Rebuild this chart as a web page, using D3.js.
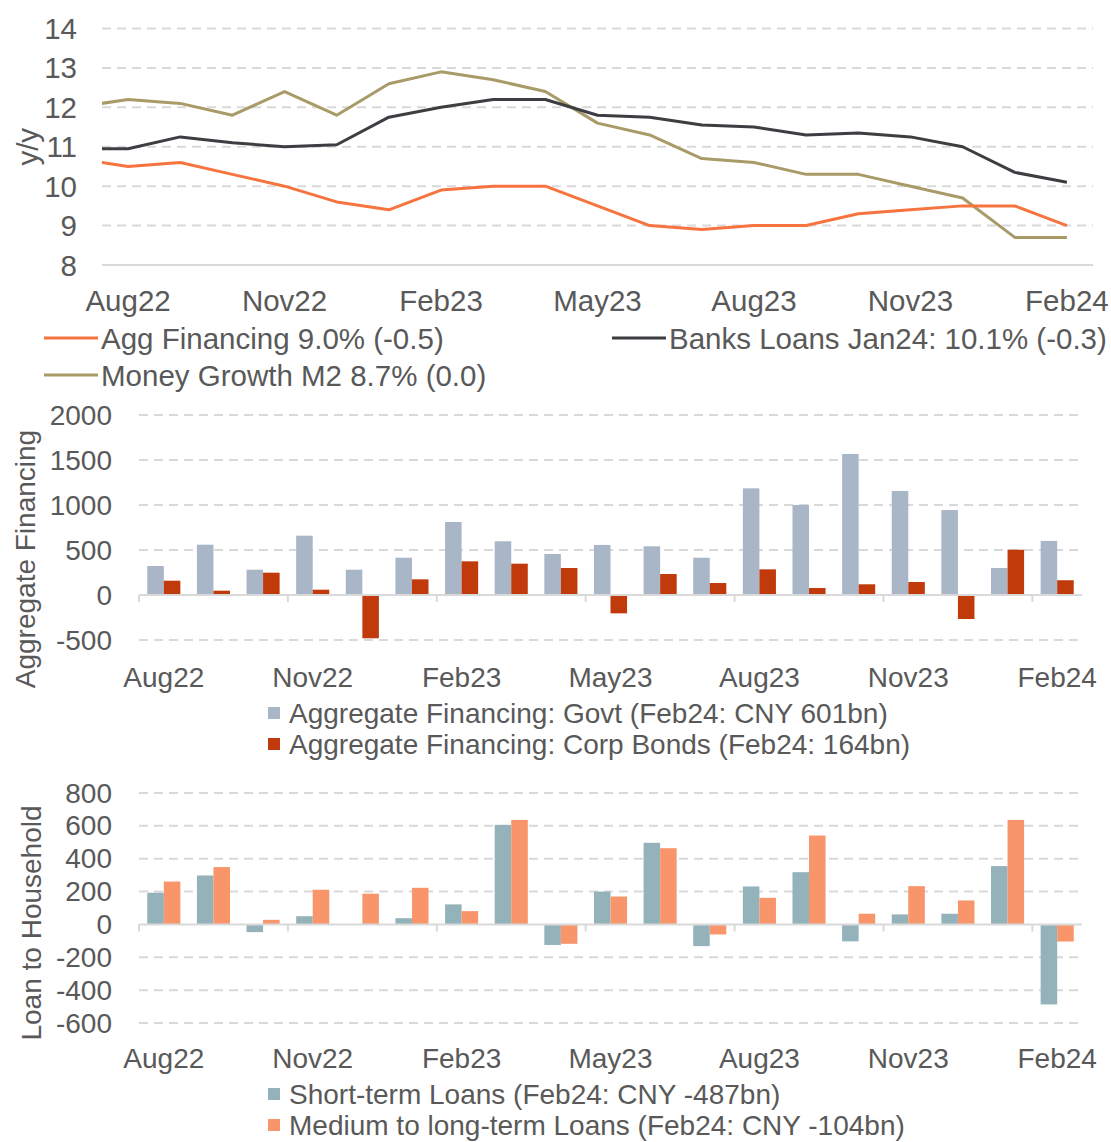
<!DOCTYPE html>
<html>
<head>
<meta charset="utf-8">
<script src="https://cdn.jsdelivr.net/npm/d3@7"></script>
<style>
  body { margin: 0; background: #fff; }
  text { font-family: "Liberation Sans", Arial, sans-serif; fill: #595959; }
</style>
</head>
<body>
<div id="chart"></div>
<script>
// months shown on every panel
const months = ['Aug22', 'Sep22', 'Oct22', 'Nov22', 'Dec22', 'Jan23', 'Feb23', 'Mar23', 'Apr23', 'May23',
  'Jun23', 'Jul23', 'Aug23', 'Sep23', 'Oct23', 'Nov23', 'Dec23', 'Jan24', 'Feb24']
const tickMonths = ['Aug22', 'Nov22', 'Feb23', 'May23', 'Aug23', 'Nov23', 'Feb24']

// line panel also carries Jul22, clipped at the left edge
const lineMonths = ['Jul22'].concat(months)
const aggFinancing = [10.7, 10.5, 10.6, 10.3, 10.0, 9.6, 9.4, 9.9, 10.0, 10.0, 9.5, 9.0, 8.9, 9.0, 9.0, 9.3, 9.4, 9.5, 9.5, 9.0]
const bankLoans = [10.95, 10.95, 11.25, 11.1, 11.0, 11.05, 11.75, 12.0, 12.2, 12.2, 11.8, 11.75, 11.55, 11.5, 11.3, 11.35, 11.25, 11.0, 10.35, 10.1]
const moneyM2 = [12.0, 12.2, 12.1, 11.8, 12.4, 11.8, 12.6, 12.9, 12.7, 12.4, 11.6, 11.3, 10.7, 10.6, 10.3, 10.3, 10.0, 9.7, 8.7, 8.7]
const lineTicks = [8, 9, 10, 11, 12, 13, 14]

const govt = [322, 559, 281, 659, 281, 414, 811, 597, 456, 556, 541, 414, 1185, 1000, 1567, 1156, 944, 300, 601]
const corpBonds = [159, 48, 248, 59, -481, 174, 374, 348, 300, -204, 233, 133, 285, 78, 119, 144, -267, 503, 164]
const aggTicks = [-500, 0, 500, 1000, 1500, 2000]

const shortTerm = [193, 298, -47, 50, 0, 38, 122, 606, -125, 200, 497, -132, 231, 318, -103, 61, 65, 355, -487]
const mediumLong = [261, 349, 28, 211, 187, 223, 81, 636, -118, 170, 464, -61, 162, 541, 65, 233, 146, 636, -104]
const loanTicks = [-600, -400, -200, 0, 200, 400, 600, 800]

const FONT = 28
const FONT1 = 29.5 // top panel text runs a bit larger
const GRID = '#d9d9d9'

const svg = d3.select('#chart').append('svg')
  .attr('width', 1111)
  .attr('height', 1142)

// ---------- panel 1: growth lines ----------
const P1 = { left: 102, right: 1093, top: 28.5, bottom: 265 }
const step1 = (P1.right - P1.left) / months.length
const x1 = d3.scalePoint().domain(lineMonths).range([P1.left - step1 / 2, P1.right - step1 / 2])
const y1 = d3.scaleLinear().domain([8, 14]).range([P1.bottom, P1.top])

svg.append('clipPath').attr('id', 'clip1')
  .append('rect')
  .attr('x', P1.left).attr('y', 0)
  .attr('width', P1.right - P1.left).attr('height', 300)

svg.append('g')
  .selectAll('line')
  .data(lineTicks)
  .join('line')
  .attr('x1', P1.left).attr('x2', P1.right)
  .attr('y1', d => y1(d)).attr('y2', d => y1(d))
  .attr('stroke', GRID)
  .attr('stroke-width', 2)
  .attr('stroke-dasharray', d => d === 8 ? null : '9,6')

svg.append('g')
  .selectAll('text')
  .data(lineTicks)
  .join('text')
  .attr('x', 77)
  .attr('y', d => y1(d))
  .attr('text-anchor', 'end')
  .attr('dominant-baseline', 'central')
  .style('font-size', FONT1 + 'px')
  .text(d => d)

svg.append('g')
  .selectAll('text')
  .data(tickMonths)
  .join('text')
  .attr('x', d => x1(d))
  .attr('y', 300)
  .attr('text-anchor', 'middle')
  .attr('dominant-baseline', 'central')
  .style('font-size', FONT1 + 'px')
  .text(d => d)

svg.append('text')
  .attr('transform', `translate(27,${(P1.top + P1.bottom) / 2}) rotate(-90)`)
  .attr('text-anchor', 'middle')
  .attr('dominant-baseline', 'central')
  .style('font-size', FONT1 + 'px')
  .text('y/y')

const lineSeries = [
  { name: 'Agg Financing 9.0% (-0.5)', values: aggFinancing, color: '#f7743f', lx: 44, ly: 338 },
  { name: 'Banks Loans Jan24: 10.1% (-0.3)', values: bankLoans, color: '#3d3d42', lx: 612, ly: 338 },
  { name: 'Money Growth M2 8.7% (0.0)', values: moneyM2, color: '#a99b68', lx: 44, ly: 375 }
]
const line = d3.line().x((d, i) => x1(lineMonths[i])).y(d => y1(d))

svg.append('g')
  .attr('clip-path', 'url(#clip1)')
  .selectAll('path')
  .data([lineSeries[2], lineSeries[1], lineSeries[0]])
  .join('path')
  .attr('d', d => line(d.values))
  .attr('fill', 'none')
  .attr('stroke', d => d.color)
  .attr('stroke-width', 3)
  .attr('stroke-linejoin', 'round')

const lg1 = svg.append('g')
lg1.selectAll('line')
  .data(lineSeries)
  .join('line')
  .attr('x1', d => d.lx).attr('x2', d => d.lx + 54)
  .attr('y1', d => d.ly).attr('y2', d => d.ly)
  .attr('stroke', d => d.color)
  .attr('stroke-width', 3)
lg1.selectAll('text')
  .data(lineSeries)
  .join('text')
  .attr('x', d => d.lx + 57)
  .attr('y', d => d.ly)
  .attr('dominant-baseline', 'central')
  .style('font-size', FONT1 + 'px')
  .text(d => d.name)

// ---------- panels 2 & 3: paired bars ----------
function barPanel (cfg) {
  const x = d3.scaleBand().domain(months).range([cfg.left, cfg.right])
  const y = d3.scaleLinear().domain(d3.extent(cfg.ticks)).range([cfg.bottom, cfg.top])
  const bw = x.step() / 3
  const g = svg.append('g')

  g.selectAll('.grid')
    .data(cfg.ticks.filter(d => d !== 0))
    .join('line')
    .attr('x1', cfg.left).attr('x2', cfg.right)
    .attr('y1', d => y(d)).attr('y2', d => y(d))
    .attr('stroke', GRID)
    .attr('stroke-width', 2)
    .attr('stroke-dasharray', '9,6')

  cfg.series.forEach((s, k) => {
    g.append('g')
      .selectAll('rect')
      .data(s.values)
      .join('rect')
      .attr('x', (d, i) => x(months[i]) + bw / 2 + k * bw)
      .attr('width', bw)
      .attr('y', d => y(Math.max(0, d)))
      .attr('height', d => Math.abs(y(d) - y(0)))
      .attr('fill', s.color)
  })

  g.append('line')
    .attr('x1', cfg.left).attr('x2', cfg.right)
    .attr('y1', y(0)).attr('y2', y(0))
    .attr('stroke', GRID)
    .attr('stroke-width', 2)
  g.selectAll('.tick')
    .data(tickMonths)
    .join('line')
    .attr('x1', d => x(d)).attr('x2', d => x(d))
    .attr('y1', y(0)).attr('y2', y(0) + 7)
    .attr('stroke', GRID)
    .attr('stroke-width', 2)

  g.selectAll('.ylab')
    .data(cfg.ticks)
    .join('text')
    .attr('x', 112)
    .attr('y', d => y(d))
    .attr('text-anchor', 'end')
    .attr('dominant-baseline', 'central')
    .style('font-size', FONT + 'px')
    .text(d => d)

  g.selectAll('.xlab')
    .data(tickMonths)
    .join('text')
    .attr('x', d => x(d) + x.bandwidth() / 2)
    .attr('y', cfg.labelY)
    .attr('text-anchor', 'middle')
    .attr('dominant-baseline', 'central')
    .style('font-size', FONT + 'px')
    .text(d => d)

  g.append('text')
    .attr('transform', `translate(${cfg.titleX},${cfg.titleY}) rotate(-90)`)
    .attr('text-anchor', 'middle')
    .attr('dominant-baseline', 'central')
    .style('font-size', FONT + 'px')
    .text(cfg.title)

  cfg.series.forEach((s, k) => {
    const ly = cfg.legendY + k * cfg.legendGap
    g.append('rect')
      .attr('x', 268).attr('y', ly - 6)
      .attr('width', 12).attr('height', 12)
      .attr('fill', s.color)
    g.append('text')
      .attr('x', 289).attr('y', ly)
      .attr('dominant-baseline', 'central')
      .style('font-size', FONT + 'px')
      .text(s.name)
  })
}

barPanel({
  left: 139, right: 1082, top: 415, bottom: 640,
  ticks: aggTicks,
  labelY: 677,
  title: 'Aggregate Financing', titleX: 25, titleY: 559,
  legendY: 713, legendGap: 31,
  series: [
    { name: 'Aggregate Financing: Govt (Feb24: CNY 601bn)', values: govt, color: '#a9b6c8' },
    { name: 'Aggregate Financing: Corp Bonds (Feb24: 164bn)', values: corpBonds, color: '#c13a0b' }
  ]
})

barPanel({
  left: 139, right: 1082, top: 793, bottom: 1023,
  ticks: loanTicks,
  labelY: 1058,
  title: 'Loan to Household', titleX: 31, titleY: 923,
  legendY: 1094, legendGap: 31,
  series: [
    { name: 'Short-term Loans (Feb24: CNY -487bn)', values: shortTerm, color: '#94b2ba' },
    { name: 'Medium to long-term Loans (Feb24: CNY -104bn)', values: mediumLong, color: '#f8956a' }
  ]
})
</script>
</body>
</html>
